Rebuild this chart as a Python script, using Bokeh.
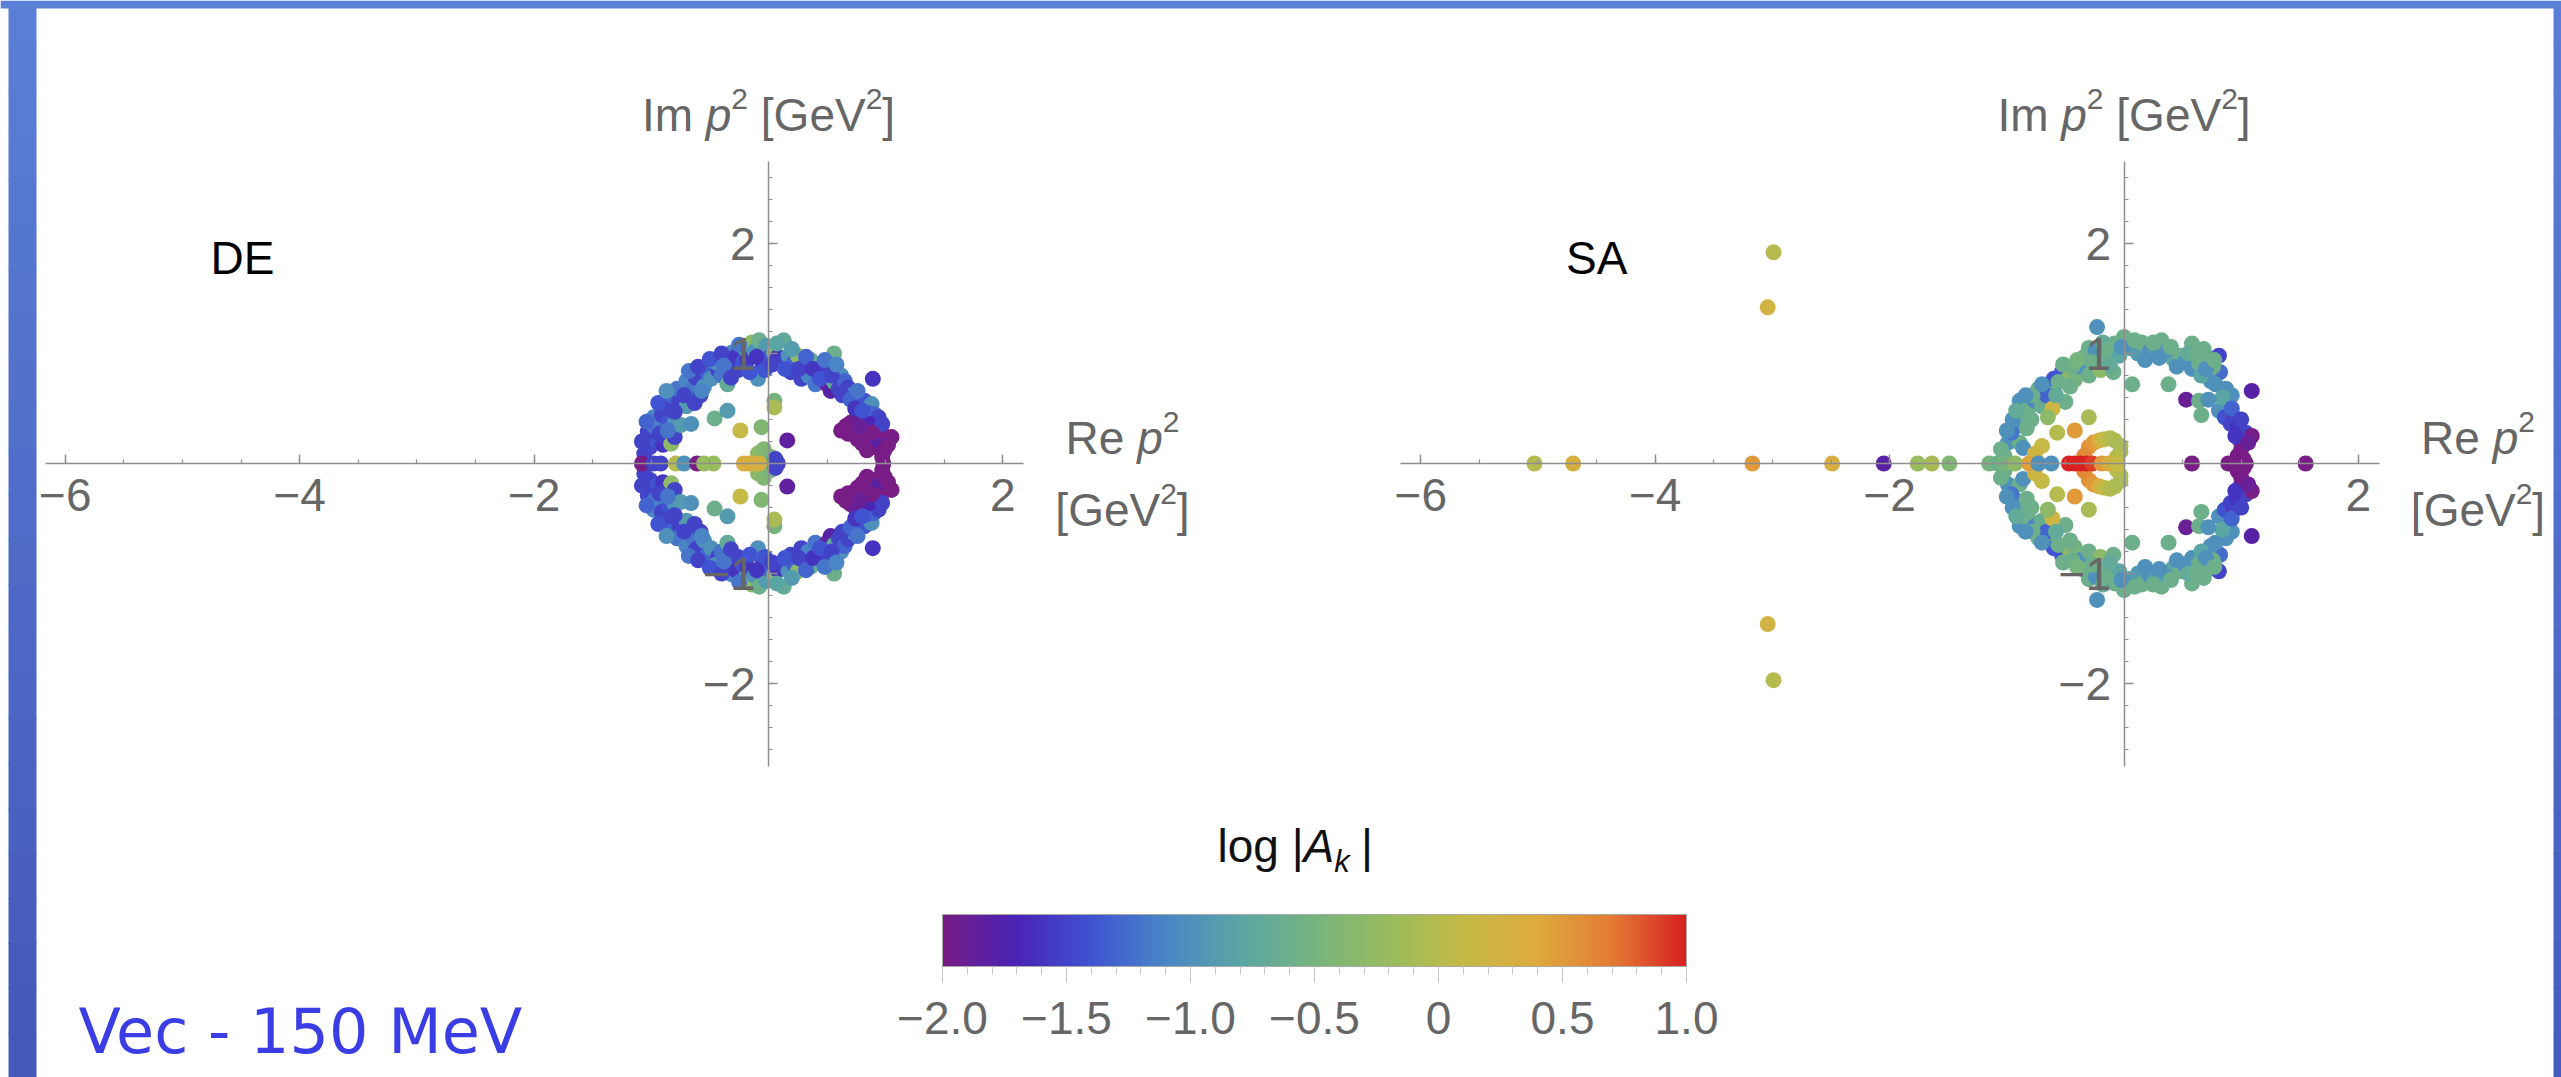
from bokeh.plotting import figure
from bokeh.models import (Range1d, LinearAxis, FixedTicker, ColumnDataSource,
                          LinearColorMapper, ColorBar, Label, BoxAnnotation)
from bokeh.embed import file_html
from bokeh.resources import INLINE

# ---------------- data ----------------
# DE panel: complex-conjugate pairs (upper half Im listed, lower half Im typed separately)
de_re = [-1.06, -1.01, -0.96, -0.90, -0.83, -0.80, -1.03, -0.97, -0.98, -0.91,
         -0.85, -0.80, -0.75, -0.66, -0.88, -0.83, -0.76, -0.78, -0.70, -0.66,
         -0.70, -0.63, -0.58, -0.62, -0.55, -0.52, -0.49, -0.43, -0.45, -0.40,
         -0.35, -0.35, -0.31, -0.28, -0.26, -0.22, -0.20, -0.18, -0.14, -0.12,
         -0.09, -0.08, -0.05, -0.02, 0.00, 0.05, 0.08, 0.13, 0.11, 0.17,
         0.19, 0.22, 0.25, 0.28, 0.30, 0.34, 0.36, 0.40, 0.42, 0.46,
         0.50, 0.50, 0.53, 0.56, 0.56, 0.60, 0.62, 0.65, 0.68, 0.73,
         0.78, 0.82, 0.88, 0.89, 0.84, 0.90, 0.94, 0.86, 0.62, 0.66,
         0.70, 0.75, 0.73, 0.79, 0.80, 0.85, 0.90, 0.93, 0.96, 0.99,
         1.05, 0.97, -0.46, -0.35, -0.24, -0.06, 0.05, 0.05, 0.16, -0.09,
         -0.04, 0.02, 0.06,
         -1.08, -1.04, -0.93, -0.86, -0.94, -0.87, -0.80, -0.72, -0.68, -0.60,
         -0.57, -0.50, -0.40, -0.38, -0.32, -0.25, -0.16, -0.10, -0.03, 0.03,
         0.07, 0.14, 0.20, 0.26, 0.32, 0.38, 0.44, 0.48, 0.54, 0.58,
         0.63, 0.70, 0.76, 0.74, 0.80, 0.97, 0.68, 0.76, 0.84, 1.02,
         0.88, 0.78]
de_im_up = [0.09, 0.15, 0.21, 0.17, 0.18, 0.24, 0.29, 0.33, 0.42, 0.44,
            0.39, 0.37, 0.35, 0.36, 0.51, 0.62, 0.57, 0.68, 0.75, 0.66,
            0.52, 0.55, 0.62, 0.78, 0.70, 0.82, 0.77, 0.85, 0.92, 0.80,
            0.72, 0.95, 1.01, 0.97, 0.85, 0.92, 1.04, 0.94, 1.10, 1.02,
            0.77, 1.12, 0.91, 1.07, 0.96, 1.01, 0.97, 1.12, 0.91, 0.98,
            0.83, 0.92, 0.98, 0.77, 0.88, 0.80, 0.94, 0.72, 0.84, 0.89,
            0.85, 0.72, 0.66, 1.00, 0.74, 0.68, 0.80, 0.75, 0.69, 0.63,
            0.56, 0.57, 0.54, 0.77, 0.46, 0.45, 0.42, 0.36, 0.30, 0.34,
            0.37, 0.42, 0.30, 0.27, 0.18, 0.21, 0.15, 0.21, 0.30, 0.12,
            0.24, 0.06, 0.41, 0.48, 0.30, 0.33, 0.57, 0.51, 0.21, 0.09,
            0.13, 0.06, 0.04,
            0.20, 0.38, 0.27, 0.30, 0.55, 0.66, 0.47, 0.62, 0.84, 0.88,
            0.66, 0.95, 1.00, 0.89, 0.78, 1.08, 0.83, 0.97, 0.85, 0.90,
            1.09, 0.86, 1.04, 0.86, 0.97, 0.86, 0.77, 0.94, 0.80, 0.90,
            0.62, 0.58, 0.66, 0.50, 0.48, 0.36, 0.27, 0.22, 0.12, 0.17,
            0.28, 0.33]
de_im_lo = [-0.09, -0.15, -0.21, -0.17, -0.18, -0.24, -0.29, -0.33, -0.42, -0.44,
            -0.39, -0.37, -0.35, -0.36, -0.51, -0.62, -0.57, -0.68, -0.75, -0.66,
            -0.52, -0.55, -0.62, -0.78, -0.70, -0.82, -0.77, -0.85, -0.92, -0.80,
            -0.72, -0.95, -1.01, -0.97, -0.85, -0.92, -1.04, -0.94, -1.10, -1.02,
            -0.77, -1.12, -0.91, -1.07, -0.96, -1.01, -0.97, -1.12, -0.91, -0.98,
            -0.83, -0.92, -0.98, -0.77, -0.88, -0.80, -0.94, -0.72, -0.84, -0.89,
            -0.85, -0.72, -0.66, -1.00, -0.74, -0.68, -0.80, -0.75, -0.69, -0.63,
            -0.56, -0.57, -0.54, -0.77, -0.46, -0.45, -0.42, -0.36, -0.30, -0.34,
            -0.37, -0.42, -0.30, -0.27, -0.18, -0.21, -0.15, -0.21, -0.30, -0.12,
            -0.24, -0.06, -0.41, -0.48, -0.30, -0.33, -0.57, -0.51, -0.21, -0.09,
            -0.13, -0.06, -0.04,
            -0.20, -0.38, -0.27, -0.30, -0.55, -0.66, -0.47, -0.62, -0.84, -0.88,
            -0.66, -0.95, -1.00, -0.89, -0.78, -1.08, -0.83, -0.97, -0.85, -0.90,
            -1.09, -0.86, -1.04, -0.86, -0.97, -0.86, -0.77, -0.94, -0.80, -0.90,
            -0.62, -0.58, -0.66, -0.50, -0.48, -0.36, -0.27, -0.22, -0.12, -0.17,
            -0.28, -0.33]
de_val = [-1.5, -1.5, -1.4, -1.6, -0.3, -1.5, -1.5, -1.2, -1.1, -1.5,
          -1.4, -1.0, -0.9, -1.0, -1.5, -1.3, -1.5, -1.2, -1.1, -1.2,
          -0.9, -1.5, -1.5, -1.5, -1.0, -1.3, -1.0, -1.5, -1.0, -1.2,
          -0.7, -1.0, -1.1, -1.6, -1.5, -1.4, -1.0, -1.6, -0.3, -1.0,
          -1.0, -0.6, -1.5, -0.9, -1.3, -0.3, -1.6, -0.7, -1.5, -1.0,
          -1.5, -1.3, -0.3, -1.5, -1.6, -1.1, -0.7, -1.2, -1.5, -1.0,
          -1.5, -1.9, -1.8, -0.6, -0.7, -1.5, -1.0, -1.3, -1.5, -1.0,
          -1.5, -1.4, -1.0, -1.6, -1.4, -1.3, -1.5, -1.7, -2.0, -2.0,
          -2.0, -1.9, -2.0, -2.0, -2.0, -2.0, -2.0, -1.8, -2.0, -2.0,
          -2.0, -2.0, -0.6, -0.9, 0.1, -0.4, -0.5, -0.1, -1.85, -0.3,
          -0.4, -0.5, -1.5,
          -1.5, -1.3, -1.5, -1.2, -1.4, -1.0, -1.5, -1.5, -1.2, -1.5,
          -1.1, -1.4, -1.5, -1.2, -1.5, -1.2, -1.4, -1.6, -1.4, -1.5,
          -0.8, -1.4, -0.9, -1.5, -1.3, -1.6, -1.4, -1.2, -1.5, -1.1,
          -1.5, -1.3, -1.2, -1.6, -1.4, -1.5, -2.0, -2.0, -2.0, -2.0,
          -2.0, -1.9]
# DE points on the real axis
de_ax_re = [-1.08, -0.98, -0.92, -0.79, -0.72, -0.61, -0.55, -0.47, -0.21, -0.17, -0.13, -0.08, 0.08, 0.98]
de_ax_im = [0.0, 0.0, 0.0, 0.0, 0.0, 0.0, 0.0, 0.0, 0.0, 0.0, 0.0, 0.0, 0.0, 0.0]
de_ax_val = [-2.0, -1.5, -1.5, 0.0, -1.0, -2.0, -0.2, -0.2, 0.35, 0.35, 0.3, 0.3, -1.5, -2.0]

# SA panel
sa_re = [-2.99, -3.04, -1.02, -0.99, -0.89, -0.86, -0.93, -0.83, -0.86, -0.96,
         -0.89, -0.81, -0.76, -0.73, -0.65, -0.70, -0.62, -0.60, -0.66, -0.53,
         -0.50, -0.47, -0.42, -0.37, -0.34, -0.30, -0.30, -0.24, -0.23, -0.20,
         -0.14, -0.09, -0.08, -0.04, 0.00, 0.05, 0.07, 0.12, 0.15, 0.22,
         0.27, 0.32, 0.38, 0.42, 0.48, 0.52, 0.58, 0.58, 0.64, 0.68,
         0.71, 0.81, 0.82, 0.74, 0.66, 0.87, 1.09, 0.53, 0.89, 0.64,
         0.81, 0.66, 0.86, 0.94, 0.91, 0.97, 1.04, 1.09, 0.99, 1.00,
         0.97, -0.61, -0.65, -0.30, -0.57, -0.42, -0.70, -0.76, -0.30, -0.26,
         -0.21, -0.17, -0.12, -0.08, -0.03, -0.03, -0.34, -0.06, -0.95, -0.78,
         -0.56, -0.44, -0.18, 0.36, 0.76, 0.92,
         -1.00, -0.92, -0.84, -0.79, -0.70, -0.58, -0.52, -0.46, -0.40, -0.27,
         -0.16, -0.12, -0.02, 0.09, 0.18, 0.25, 0.30, 0.40, 0.45, 0.55,
         0.62, 0.70, 0.77, 0.78, 0.84, 0.72, 0.92, 1.00, 0.95, 1.06,
         1.02, -1.05]
sa_im_up = [1.92, 1.42, 0.07, 0.19, 0.19, 0.14, 0.33, 0.32, 0.44, 0.28,
            0.57, 0.51, 0.57, 0.68, 0.65, 0.52, 0.71, 0.77, 0.62, 0.83,
            0.56, 0.78, 0.76, 0.88, 0.97, 0.80, 1.05, 1.03, 1.24, 0.85,
            0.95, 0.83, 1.09, 0.98, 1.15, 1.05, 0.72, 1.00, 1.10, 1.02,
            1.03, 1.12, 0.72, 0.95, 0.98, 0.92, 1.09, 0.86, 0.91, 1.04,
            0.97, 0.98, 0.83, 0.75, 0.80, 0.68, 0.66, 0.58, 0.57, 0.57,
            0.48, 0.44, 0.42, 0.42, 0.36, 0.33, 0.28, 0.25, 0.21, 0.13,
            0.07, 0.50, 0.42, 0.42, 0.28, 0.30, 0.16, 0.09, 0.15, 0.19,
            0.21, 0.22, 0.23, 0.21, 0.16, 0.11, 0.07, 0.06, 0.40, 0.62,
            0.74, 0.88, 1.10, 1.02, 0.88, 0.62,
            0.30, 0.48, 0.62, 0.40, 0.72, 0.62, 0.90, 0.70, 0.94, 0.92,
            1.04, 0.90, 1.06, 1.12, 0.94, 1.10, 0.96, 1.06, 0.88, 1.00,
            1.00, 0.86, 0.94, 0.72, 0.60, 0.58, 0.50, 0.40, 0.25, 0.19,
            0.04, 0.13]
sa_im_lo = [-1.97, -1.46, -0.07, -0.19, -0.19, -0.14, -0.33, -0.32, -0.44, -0.28,
            -0.57, -0.51, -0.57, -0.68, -0.65, -0.52, -0.71, -0.77, -0.62, -0.83,
            -0.56, -0.78, -0.76, -0.88, -0.97, -0.80, -1.05, -1.03, -1.24, -0.85,
            -0.95, -0.83, -1.09, -0.98, -1.15, -1.05, -0.72, -1.00, -1.10, -1.02,
            -1.03, -1.12, -0.72, -0.95, -0.98, -0.92, -1.09, -0.86, -0.91, -1.04,
            -0.97, -0.98, -0.83, -0.75, -0.80, -0.68, -0.66, -0.58, -0.57, -0.57,
            -0.48, -0.44, -0.42, -0.42, -0.36, -0.33, -0.28, -0.25, -0.21, -0.13,
            -0.07, -0.50, -0.42, -0.42, -0.28, -0.30, -0.16, -0.09, -0.15, -0.19,
            -0.21, -0.22, -0.23, -0.21, -0.16, -0.11, -0.07, -0.06, -0.40, -0.62,
            -0.74, -0.88, -1.10, -1.02, -0.88, -0.62,
            -0.30, -0.48, -0.62, -0.40, -0.72, -0.62, -0.90, -0.70, -0.94, -0.92,
            -1.04, -0.90, -1.06, -1.12, -0.94, -1.10, -0.96, -1.06, -0.88, -1.00,
            -1.00, -0.86, -0.94, -0.72, -0.60, -0.58, -0.50, -0.40, -0.25, -0.19,
            -0.04, -0.13]
sa_val = [0.0, 0.25, -0.6, -1.0, -0.6, -1.0, -1.0, -0.6, -0.6, -1.2,
          -1.0, -0.6, -1.1, -0.6, -0.6, -0.65, -0.6, -1.4, -1.3, -1.4,
          -0.6, -0.3, -0.5, -1.0, -0.6, -0.6, -0.6, -1.0, -1.0, -0.3,
          -0.6, -0.6, -0.6, -0.8, -0.6, -0.9, -0.6, -0.9, -0.6, -1.0,
          -0.9, -0.6, -0.6, -0.8, -0.6, -1.0, -0.6, -1.0, -0.6, -0.6,
          -0.6, -1.5, -1.25, -1.0, -0.8, -1.0, -1.8, -1.9, -2.0, -0.6,
          -1.0, -0.6, -1.4, -2.0, -1.5, -1.6, -1.5, -2.0, -1.5, -2.0,
          -2.0, 0.2, -0.3, -0.1, 0.0, 0.5, 0.1, 0.2, 0.55, 0.5,
          0.35, 0.1, 0.0, -0.05, -0.1, -0.1, 0.6, 0.0, -1.0, -0.6,
          -0.6, -0.6, -0.7, -0.9, -0.6, -1.0,
          -1.0, -0.7, -1.0, -0.6, -1.0, -0.7, -0.6, -0.6, -0.5, -0.6,
          -0.6, -0.7, -1.0, -0.6, -1.0, -0.6, -1.0, -0.6, -1.0, -0.7,
          -0.6, -1.0, -0.6, -1.0, -0.8, -1.0, -1.3, -1.5, -1.6, -1.9,
          -2.0, -0.6]
sa_ax_re = [-5.03, -4.70, -3.17, -2.49, -2.05, -1.76, -1.64, -1.49, -1.15, -1.08,
            -1.02, -0.93, -0.81, -0.73, -0.62, -0.47, -0.42, -0.37, -0.32, -0.27,
            -0.19, -0.13, -0.06, 0.58, 0.89, 0.94, 0.99, 1.04, 1.55]
sa_ax_im = [0.0, 0.0, 0.0, 0.0, 0.0, 0.0, 0.0, 0.0, 0.0, 0.0,
            0.0, 0.0, 0.0, 0.0, 0.0, 0.0, 0.0, 0.0, 0.0, 0.0,
            0.0, 0.0, 0.0, 0.0, 0.0, 0.0, 0.0, 0.0, 0.0]
sa_ax_val = [0.0, 0.3, 0.5, 0.35, -1.8, -0.2, -0.1, -0.4, -0.5, -0.6,
             -0.5, -0.3, 0.45, -1.0, -1.0, 1.0, 1.0, 1.0, 1.0, 0.9,
             0.5, 0.3, 0.1, -2.0, -2.0, -2.0, -2.0, -2.0, -2.0]

x_ticks = [-6, -4, -2, 2]
x_tick_labels = ["\u22126", "\u22124", "\u22122", "2"]
y_ticks = [-2, -1, 1, 2]
y_tick_labels = ["\u22122", "\u22121", "1", "2"]
cbar_ticks = [-2.0, -1.5, -1.0, -0.5, 0.0, 0.5, 1.0]
cbar_tick_labels = ["\u22122.0", "\u22121.5", "\u22121.0", "\u22120.5", "0", "0.5", "1.0"]
panel_names = ["DE", "SA"]

# ---------------- layout constants (page pixels) ----------------
W, H = 2561, 1077
OXL, OXR, OY = 768.0, 2123.5, 463.0     # panel origins
SX, SY = 117.2, 110.0                    # px per unit
FONT = "Liberation Sans"
TXT = "#666666"
AXC = "#8e8e8e"
PT = 16

anchors = [(0.0, (120, 28, 134)), (0.1, (72, 36, 182)), (0.2, (64, 84, 210)),
           (0.3, (74, 134, 198)), (0.4, (90, 166, 164)), (0.5, (118, 180, 126)),
           (0.6, (152, 188, 94)), (0.7, (196, 186, 70)), (0.8, (222, 170, 62)),
           (0.9, (227, 124, 52)), (1.0, (217, 33, 33))]


def make_palette(n=256):
    pal = []
    for i in range(n):
        t = i / (n - 1)
        for k in range(len(anchors) - 1):
            t0, c0 = anchors[k]
            t1, c1 = anchors[k + 1]
            if t <= t1:
                break
        f = (t - t0) / (t1 - t0)
        pal.append("#%02x%02x%02x" % tuple(round(c0[j] + (c1[j] - c0[j]) * f) for j in range(3)))
    return pal


mapper = LinearColorMapper(palette=make_palette(), low=-2.0, high=1.0)

p = figure(width=W, height=H, output_backend="svg", toolbar_location=None,
           x_range=Range1d(-OXL / SX, (W - OXL) / SX),
           y_range=Range1d(-(H - OY) / SY, OY / SY),
           x_axis_type=None, y_axis_type=None, min_border=0,
           background_fill_color="white", border_fill_color="white",
           outline_line_color=None)
p.extra_x_ranges = {"sa": Range1d(-OXR / SX, (W - OXR) / SX)}


def fx2x(fx):
    return (fx - OXL) / SX


def fy2y(fy):
    return (OY - fy) / SY


def hexc(c):
    return "#%02x%02x%02x" % c


# slide frame: top bar, left bar (gradient), right bar
p.add_layout(BoxAnnotation(left=fx2x(0), right=fx2x(W), top=fy2y(0), bottom=fy2y(8),
                           fill_color="#5b80d8", fill_alpha=1.0, line_color=None, level="underlay"))
NB = 24
for i in range(NB):
    t = (i + 0.5) / NB
    c = (round(90 + (68 - 90) * t), round(127 + (88 - 127) * t), round(214 + (184 - 214) * t))
    p.add_layout(BoxAnnotation(left=fx2x(8), right=fx2x(36), top=fy2y(max(i * H / NB, 7)),
                               bottom=fy2y((i + 1) * H / NB + 1),
                               fill_color=hexc(c), fill_alpha=1.0,
                               line_color=None, level="underlay"))
    c2 = (round(92 + (70 - 92) * t), round(126 + (92 - 126) * t), round(216 + (190 - 216) * t))
    p.add_layout(BoxAnnotation(left=fx2x(2553), right=fx2x(W), top=fy2y(max(i * H / NB, 7)),
                               bottom=fy2y((i + 1) * H / NB + 1),
                               fill_color=hexc(c2), fill_alpha=1.0,
                               line_color=None, level="underlay"))


def add_points(re, im, val, rng):
    src = ColumnDataSource(dict(re=re, im=im, val=val))
    kw = {} if rng is None else {"x_range_name": rng}
    p.scatter("re", "im", source=src, size=PT, line_color=None,
              fill_color={"field": "val", "transform": mapper}, **kw)


add_points(de_re, de_im_up, de_val, None)
add_points(de_re, de_im_lo, de_val, None)
add_points(de_ax_re, de_ax_im, de_ax_val, None)
add_points(sa_re, sa_im_up, sa_val, "sa")
add_points(sa_re, sa_im_lo, sa_val, "sa")
add_points(sa_ax_re, sa_ax_im, sa_ax_val, "sa")

x_minor = [-6 + 0.5 * i for i in range(17)]
y_minor = [round(-2.6 + 0.2 * i, 1) for i in range(27)]


def make_axes(rng):
    kw = {} if rng is None else {"x_range_name": rng}
    common = dict(axis_line_color=AXC, major_tick_line_color=AXC, minor_tick_line_color=AXC,
                  axis_line_width=1.5, major_tick_line_width=1.5, minor_tick_line_width=1.2,
                  major_tick_out=0, minor_tick_out=0, major_tick_in=9, minor_tick_in=4,
                  major_label_text_font=FONT, major_label_text_font_size="46px",
                  major_label_text_color=TXT)
    xa = LinearAxis(fixed_location=0, bounds=(-6.17, 2.18),
                    ticker=FixedTicker(ticks=x_ticks, minor_ticks=x_minor),
                    major_label_overrides=dict(zip(x_ticks, x_tick_labels)),
                    major_label_standoff=15, **common, **kw)
    ya = LinearAxis(fixed_location=0, bounds=(-2.75, 2.75),
                    ticker=FixedTicker(ticks=y_ticks, minor_ticks=y_minor),
                    major_label_overrides=dict(zip(y_ticks, y_tick_labels)),
                    major_label_standoff=13, **common, **kw)
    p.add_layout(xa, "below")
    p.add_layout(ya, "left")


make_axes(None)
make_axes("sa")

WID = {" ": 278, "I": 278, "m": 833, "p": 556, "2": 556, "[": 278, "G": 778, "e": 556,
       "V": 667, "]": 278, "R": 722, "l": 222, "o": 556, "g": 556, "|": 260, "A": 667, "k": 500}
DESC = {"Liberation Sans": 0.212, "DejaVu Sans": 0.236}


def twidth(s, size):
    return sum(WID[c] for c in s) * size / 1000.0


def put(text, fx, fy, size, style="normal", color=TXT, font=FONT, align="left"):
    # fy is the wanted baseline; the label is anchored at the bottom of its text box
    fy_bottom = fy + DESC[font] * size
    p.add_layout(Label(x=fx2x(fx), y=fy2y(fy_bottom - 2 * DESC[font] * size), text=text,
                       text_font=font, text_font_size="%gpx" % size, text_font_style=style,
                       text_color=color, text_align=align, text_baseline="alphabetic"))


def rich(pieces, fx, fy, color=TXT):
    for text, style, size, rise in pieces:
        if text.strip():
            put(text, fx, fy - rise, size, style, color)
        fx += twidth(text, size)


def rich_width(pieces):
    return sum(twidth(t, s) for t, _, s, _ in pieces)


IM = [("Im", "normal", 46, 0), (" ", "normal", 46, 0), ("p", "italic", 46, 0),
      ("2", "normal", 30, 19), (" ", "normal", 46, 0), ("[GeV", "normal", 46, 0),
      ("2", "normal", 30, 19), ("]", "normal", 46, 0)]
RE = [("Re", "normal", 46, 0), (" ", "normal", 46, 0), ("p", "italic", 46, 0),
      ("2", "normal", 30, 19)]
GEV = [("[GeV", "normal", 46, 0), ("2", "normal", 30, 19), ("]", "normal", 46, 0)]

for ox, name in zip([OXL, OXR], panel_names):
    rich(IM, ox - rich_width(IM) / 2, 124)
    rich(RE, ox + 354 - rich_width(RE) / 2, 447)
    rich(GEV, ox + 354 - rich_width(GEV) / 2, 519)
    put(name, ox - 558, 267, 46, color="black")

# colour bar
cb_minor = [round(-2.0 + 0.1 * i, 1) for i in range(31)]
cb = ColorBar(color_mapper=mapper, orientation="horizontal", location=(942, 41),
              width=744, height=52, padding=0,
              ticker=FixedTicker(ticks=cbar_ticks, minor_ticks=cb_minor),
              major_label_overrides=dict(zip(cbar_ticks, cbar_tick_labels)),
              major_label_text_font=FONT, major_label_text_font_size="46px",
              major_label_text_color=TXT, major_tick_out=16, major_tick_in=0,
              minor_tick_out=8, minor_tick_in=0,
              major_tick_line_color="#c8c8c8", minor_tick_line_color="#c8c8c8",
              bar_line_color="#a8a8a8", label_standoff=19,
              background_fill_color=None, border_line_color=None)
p.add_layout(cb)

TITLE = [("log", "normal", 46, 0), (" ", "normal", 46, 0), ("|", "normal", 46, 0),
         ("A", "italic", 46, 0), ("k", "italic", 31, -13), (" ", "normal", 40, 0),
         ("|", "normal", 46, 0)]
rich(TITLE, 1217, 855, color="#111111")

put("Vec - 150 MeV", 78, 1046, 62, color="#3b3de4", font="DejaVu Sans")

open("out.html", "w").write(file_html(p, INLINE))
